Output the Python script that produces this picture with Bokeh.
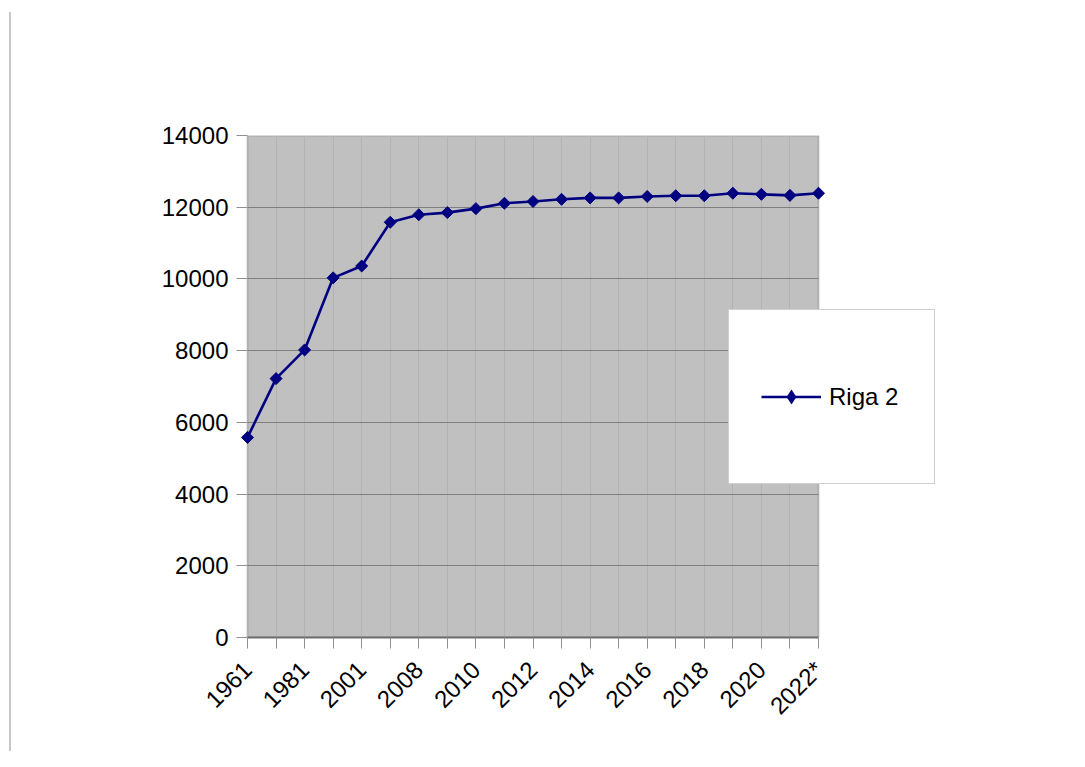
import math
from bokeh.plotting import figure
from bokeh.models import (ColumnDataSource, FixedTicker, Legend, LegendItem,
                          Range1d, BoxAnnotation)
from bokeh.embed import file_html
from bokeh.resources import INLINE

# ---- data ----
categories = ["1961", "1971", "1981", "1991", "2001", "2007", "2008", "2009",
              "2010", "2011", "2012", "2013", "2014", "2015", "2016", "2017",
              "2018", "2019", "2020", "2021", "2022*"]
values = [5580, 7220, 8020, 10030, 10360, 11580, 11790, 11850, 11960, 12110,
          12160, 12220, 12260, 12260, 12300, 12320, 12320, 12390, 12360,
          12330, 12390]
series_name = "Riga 2"
y_ticks = [0, 2000, 4000, 6000, 8000, 10000, 12000, 14000]

FONT = "Liberation Sans"
NAVY = "#000080"

# ---- layout (pixels) ----
W, H = 1069, 751
PLOT_L, PLOT_R = 247, 818          # data area left / right edge
FRAME_L = 238                      # frame starts a little left so markers are not cut
FRAME_R = 950                      # frame extends right so the legend fits
FRAME_T, FRAME_B = 135, 637

idx = list(range(len(categories)))
n_last = idx[-1]
px_per_unit = (PLOT_R - PLOT_L) / n_last
x_start = -(PLOT_L - FRAME_L) / px_per_unit
x_end = n_last + (FRAME_R - PLOT_R) / px_per_unit

src = ColumnDataSource(data=dict(x=idx, y=values, cat=categories))

p = figure(width=W, height=H, output_backend="svg", toolbar_location=None,
           x_range=Range1d(x_start, x_end), y_range=Range1d(y_ticks[0], y_ticks[-1]),
           min_border_left=FRAME_L, min_border_right=W - FRAME_R,
           min_border_top=FRAME_T, min_border_bottom=H - FRAME_B)

p.background_fill_color = "white"
p.border_fill_color = None
p.outline_line_color = None
p.styles = {"background": "linear-gradient(#c8c8c8, #c8c8c8) 9px 12px / 2px 100% no-repeat, white"}

# gray plot area
p.add_layout(BoxAnnotation(left=idx[0], right=n_last, bottom=y_ticks[0], top=y_ticks[-1],
                           fill_color="#c0c0c0", fill_alpha=1,
                           line_color="#6e6e6e", line_width=2, level="image"))

# axes
p.xaxis.ticker = FixedTicker(ticks=idx)
p.xaxis.bounds = (idx[0], n_last)
p.xaxis.major_label_overrides = {i: (c if i % 2 == 0 else "") for i, c in enumerate(categories)}
p.xaxis.major_label_orientation = math.pi / 4
p.yaxis.ticker = FixedTicker(ticks=y_ticks)
for ax in (p.xaxis[0], p.yaxis[0]):
    ax.major_label_text_font = FONT
    ax.major_label_text_font_size = "24px"
    ax.major_label_text_color = "black"
    ax.axis_line_color = "#6e6e6e"
    ax.axis_line_width = 2
    ax.major_tick_line_color = "#909090"
    ax.major_tick_out = 11
    ax.major_tick_in = 0
    ax.minor_tick_line_color = None
    ax.major_label_standoff = 8
p.xaxis.major_label_standoff = 17
# y axis sits at the frame edge; its ticks reach to the gray area
p.yaxis.axis_line_color = None
p.yaxis.major_tick_out = FRAME_L - 236
p.yaxis.major_tick_in = PLOT_L - FRAME_L

p.xgrid.grid_line_color = "#b2b2b2"
p.xgrid.bounds = (idx[0], n_last)
p.ygrid.grid_line_color = "#7f7f7f"
p.ygrid.cross_bounds = (idx[0], n_last)

line_r = p.line(x="x", y="y", source=src, line_color=NAVY, line_width=2.6)
mark_r = p.scatter(x="x", y="y", source=src, marker="square", size=8.5,
                   angle=math.pi / 4, fill_color=NAVY, line_color=NAVY)
# legend-only diamond glyph (legend draws it at its own size)
leg_mark = p.scatter(x="x", y="y", source=src, marker="diamond", size=0,
                     fill_color=NAVY, line_color=None)

legend = Legend(items=[LegendItem(label=series_name, renderers=[line_r, leg_mark])],
                location=(728 - FRAME_L, FRAME_B - 484), padding=32, margin=0,
                glyph_width=60, glyph_height=37, label_standoff=8,
                label_width=73, label_height=109,
                label_text_font=FONT, label_text_font_size="24px",
                label_text_color="black",
                border_line_color="#a0a0a0", border_line_width=1,
                background_fill_color="white", background_fill_alpha=1)
p.add_layout(legend)

open("out.html", "w").write(file_html(p, INLINE))
